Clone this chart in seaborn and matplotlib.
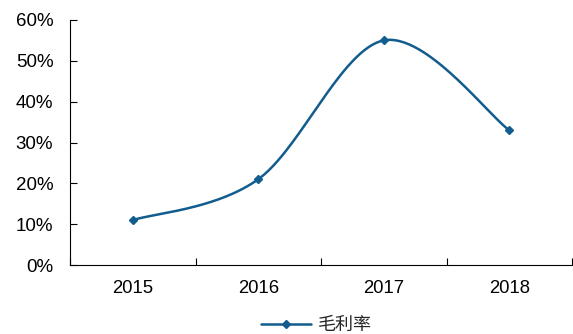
import numpy as np
import pandas as pd
import matplotlib
matplotlib.use("Agg")
import matplotlib.pyplot as plt
from matplotlib.ticker import FixedLocator, PercentFormatter
from matplotlib.lines import Line2D
import seaborn as sns

years = ["2015", "2016", "2017", "2018"]
gross_margin = [11, 21, 55, 33]
series_name = "毛利率"

sns.set_theme(style="white")
plt.rcParams['font.family'] = ['Liberation Sans', 'Noto Sans CJK SC', 'DejaVu Sans']

color = "#125C8E"

# Excel-style smoothed line (Bezier with Catmull-Rom control points)
x = np.arange(len(years), dtype=float)
y = np.array(gross_margin, dtype=float)
pts = np.column_stack([x, y])
curve = []
n = len(pts)
for i in range(n - 1):
    p0 = pts[max(i - 1, 0)]
    p1 = pts[i]
    p2 = pts[i + 1]
    p3 = pts[min(i + 2, n - 1)]
    c1 = p1 + (p2 - p0) / 6.0
    c2 = p2 - (p3 - p1) / 6.0
    t = np.linspace(0, 1, 60)[:, None]
    seg = ((1 - t) ** 3) * p1 + 3 * ((1 - t) ** 2) * t * c1 + 3 * (1 - t) * t ** 2 * c2 + t ** 3 * p2
    curve.append(seg if i == 0 else seg[1:])
curve = np.vstack(curve)
df_curve = pd.DataFrame({"x": curve[:, 0], "y": curve[:, 1]})
df_pts = pd.DataFrame({"x": x, "y": y})

fig = plt.figure(figsize=(5.73, 3.34), dpi=100)
ax = fig.add_axes([70 / 573, (334 - 265) / 334, (572 - 70) / 573, (265 - 20) / 334])

sns.lineplot(data=df_curve, x="x", y="y", ax=ax, color=color, linewidth=1.8,
             sort=False, estimator=None, legend=False)
ax.plot(df_pts["x"], df_pts["y"], linestyle="none", marker="D", markersize=4.5,
        color=color)

ax.set_xlim(-0.5, len(years) - 0.5)
ax.set_ylim(0, 60)
ax.set_xlabel("")
ax.set_ylabel("")

ax.set_xticks(x)
ax.set_xticklabels(years)
ax.xaxis.set_minor_locator(FixedLocator(np.arange(-0.5, len(years), 1.0)))
ax.tick_params(axis="x", which="major", length=0, pad=11, labelsize=13.3, colors="black")
ax.tick_params(axis="x", which="minor", length=5, direction="in", width=0.8, color="black", bottom=True)

ax.set_yticks(np.arange(0, 61, 10))
ax.yaxis.set_major_formatter(PercentFormatter(decimals=0))
ax.tick_params(axis="y", which="major", length=5, direction="in", width=0.8, color="black",
               pad=12, labelsize=13.5, left=True, labelcolor="black")

for s in ["top", "right"]:
    ax.spines[s].set_visible(False)
for s in ["left", "bottom"]:
    ax.spines[s].set_color("black")
    ax.spines[s].set_linewidth(0.8)

handle = Line2D([], [], color=color, linewidth=1.8, marker="D", markersize=4.5)
fig.legend([handle], [series_name], loc="center", bbox_to_anchor=(316 / 573, 1 - 325 / 334),
           frameon=False, handlelength=2.8, handletextpad=0.35,
           prop={"family": ['Noto Sans CJK SC', 'DejaVu Sans'], "size": 13})

fig.savefig("out.png", dpi=100)
